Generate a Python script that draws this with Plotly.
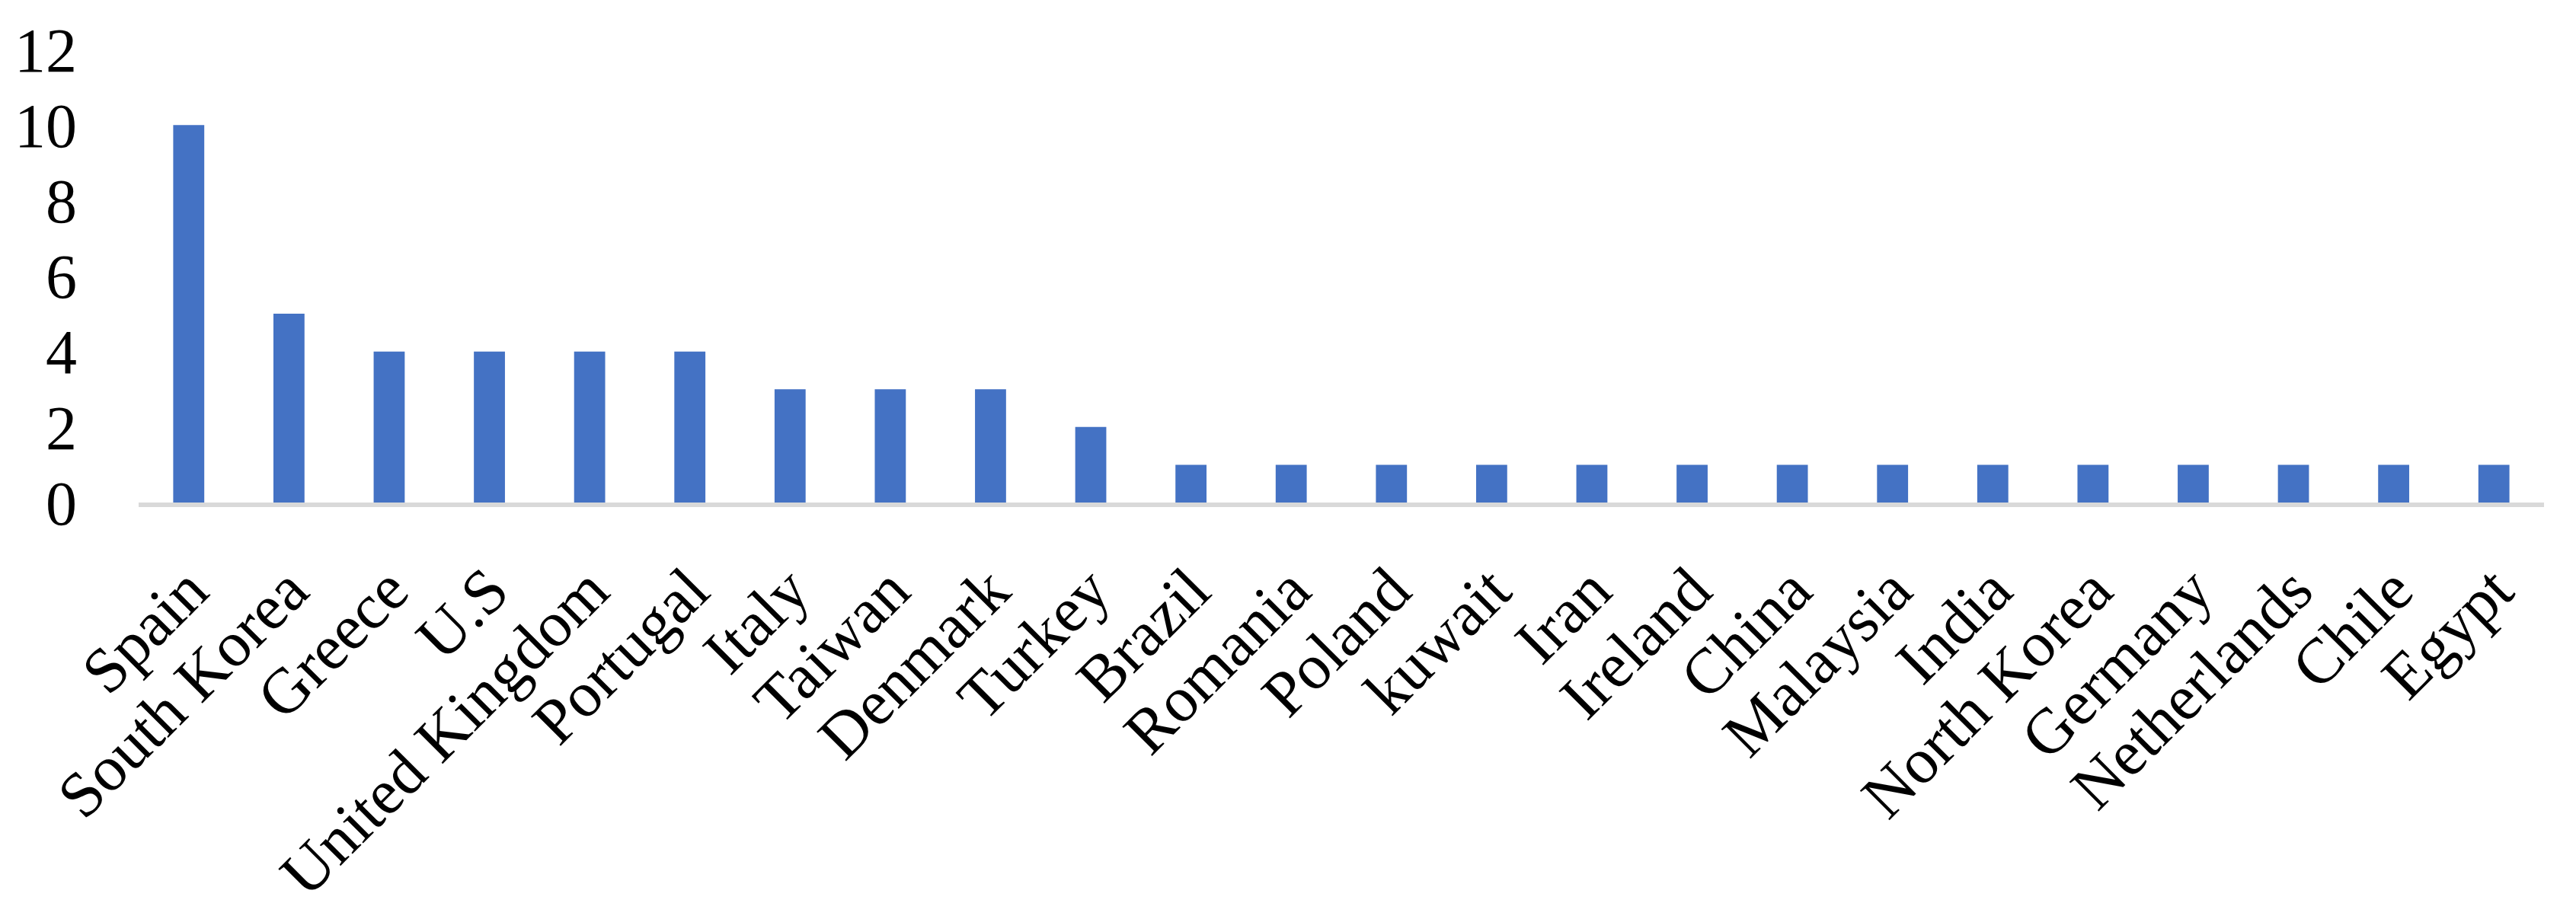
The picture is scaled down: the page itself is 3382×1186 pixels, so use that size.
import plotly.graph_objects as go

countries = ["Spain", "South Korea", "Greece", "U.S", "United Kingdom", "Portugal",
             "Italy", "Taiwan", "Denmark", "Turkey", "Brazil", "Romania", "Poland",
             "kuwait", "Iran", "Ireland", "China", "Malaysia", "India", "North Korea",
             "Germany", "Netherlands", "Chile", "Egypt"]
counts = [10, 5, 4, 4, 4, 4, 3, 3, 3, 2, 1, 1, 1, 1, 1, 1, 1, 1, 1, 1, 1, 1, 1, 1]
y_ticks = [0, 2, 4, 6, 8, 10, 12]

FONT = "Liberation Serif, Times New Roman, serif"

fig = go.Figure(go.Bar(x=countries, y=counts, marker=dict(color="#4472C4", line=dict(width=0))))

fig.update_layout(
    width=3374, height=1178,
    margin=dict(l=174, r=42, t=57, b=526, autoexpand=False),
    paper_bgcolor="white", plot_bgcolor="white",
    bargap=0.69,
    showlegend=False,
    font=dict(family=FONT, size=80, color="black"),
)
fig.update_xaxes(
    type="category", tickangle=-45, showline=True, linecolor="#D9D9D9", linewidth=6,
    showgrid=False, ticks="", tickfont=dict(family=FONT, size=84, color="black"),
    ticklabelstandoff=26, automargin=False,
)
fig.update_yaxes(
    range=[0, 12], tickvals=y_ticks, showgrid=False, zeroline=False, showline=False,
    ticks="", tickfont=dict(family=FONT, size=82, color="black"), ticklabelstandoff=80,
    automargin=False,
)

fig.write_html("out.html")
